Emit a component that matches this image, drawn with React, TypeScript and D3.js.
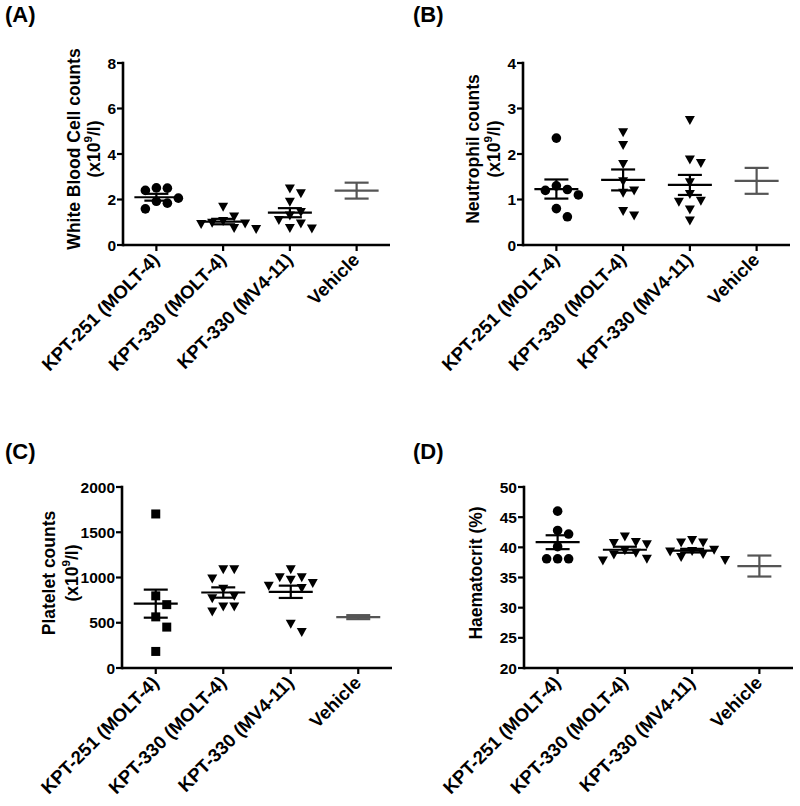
import React from 'react'
import * as d3 from 'd3'

const categories = ['KPT-251 (MOLT-4)', 'KPT-330 (MOLT-4)', 'KPT-330 (MV4-11)', 'Vehicle']

// (A) white blood cell counts, x10^9/l
const wbcPoints = [
    [2.5, 2.51, 2.4, 2.06, 1.92, 1.84, 1.59],
    [1.68, 1.25, 1.05, 0.98, 0.95, 0.92, 0.75, 0.7],
    [2.48, 2.28, 1.9, 1.45, 1.3, 1.1, 0.95, 0.75, 0.72]
]
const wbcMean = [2.1, 1.03, 1.42, 2.39]
const wbcSem = [0.15, 0.12, 0.2, 0.35]
const wbcTicks = [0, 2, 4, 6, 8]

// (B) neutrophil counts, x10^9/l
const neutPoints = [
    [2.35, 1.3, 1.22, 1.2, 1.1, 0.8, 0.62],
    [2.48, 2.2, 1.78, 1.4, 1.2, 1.15, 0.75, 0.65],
    [2.75, 1.88, 1.8, 1.38, 1.12, 0.97, 0.95, 0.78, 0.54]
]
const neutMean = [1.23, 1.43, 1.32, 1.41]
const neutSem = [0.21, 0.23, 0.22, 0.285]
const neutTicks = [0, 1, 2, 3, 4]

// (C) platelet counts, x10^9/l
const pltPoints = [
    [1702, 797, 700, 565, 452, 183],
    [1092, 1092, 988, 875, 797, 772, 680, 680, 625],
    [1092, 1004, 1004, 974, 938, 908, 883, 489, 397]
]
const pltMean = [711, 834, 842, 562]
const pltSem = [155, 57, 68, 22]
const pltTicks = [0, 500, 1000, 1500, 2000]

// (D) haematocrit, %
const hctPoints = [
    [46.0, 42.8, 42.2, 40.1, 38.1, 38.1, 38.1],
    [41.8, 40.9, 40.7, 40.5, 39.5, 39.1, 38.8, 38.1, 37.8],
    [41.2, 40.8, 40.8, 39.6, 39.4, 39.3, 38.9, 38.4, 37.9]
]
const hctMean = [40.85, 39.6, 39.45, 36.9]
const hctSem = [1.15, 0.5, 0.3, 1.74]
const hctTicks = [20, 25, 30, 35, 40, 45, 50]

const FONT = 'Liberation Sans, Arial, sans-serif'
const GREY = '#555'

type Shape = 'circle' | 'triangle' | 'square'

/** places points of one group side by side when they would overlap */
function swarm (ys: number[], gap: number) {
    const placed: { x: number, y: number }[] = []
    const order = ys.map((y, i) => ({ y, i })).sort((a, b) => a.y - b.y)
    const out: number[] = new Array(ys.length).fill(0)
    order.forEach(({ y, i }) => {
        const candidates = [0]
        for (let k = 1; k < 8; k++) candidates.push(k * gap, -k * gap)
        for (const c of candidates) {
            if (!placed.some(p => Math.hypot(p.x - c, p.y - y) < gap - 0.5)) {
                placed.push({ x: c, y })
                out[i] = c
                break
            }
        }
    })
    return out
}

const Marker = ({ shape, x, y }: { shape: Shape, x: number, y: number }) => {
    if (shape === 'circle') return <circle cx={x} cy={y} r={4.8} fill='#000' />
    if (shape === 'square') return <rect x={x - 4.5} y={y - 4.5} width={9} height={9} fill='#000' />
    return <path d={`M${x - 5},${y - 4}L${x + 5},${y - 4}L${x},${y + 5}Z`} fill='#000' />
}

interface PanelProps {
    letter: string,
    letterX: number,
    letterY: number,
    left: number,
    top: number,
    width: number,
    height: number,
    ticks: number[],
    labelLines: React.ReactNode[],
    labelOffsets: number[],
    points: number[][],
    means: number[],
    sems: number[],
    shapes: Shape[]
}

const Panel = (props: PanelProps) => {
    const { left, top, width, height, ticks } = props
    const bottom = top + height
    const y = d3.scaleLinear().domain([ticks[0], ticks[ticks.length - 1]]).range([bottom, top])
    const x = d3.scalePoint<string>().domain(categories).range([left, left + width]).padding(0.5)
    const midY = top + 86

    return (
        <g>
            <text x={props.letterX} y={props.letterY} fontSize={22} fontWeight='bold' fontFamily={FONT}>{props.letter}</text>

            {props.labelLines.map((line, i) => (
                <text
                    key={i}
                    transform={`translate(${left + props.labelOffsets[i]}, ${midY}) rotate(-90)`}
                    textAnchor='middle'
                    dominantBaseline='central'
                    fontSize={17.5}
                    fontWeight='bold'
                    fontFamily={FONT}
                >
                    {line}
                </text>
            ))}

            {/* y axis */}
            <line x1={left} x2={left} y1={top} y2={bottom} stroke='#000' strokeWidth={2.6} strokeLinecap='square' />
            {ticks.map(t => (
                <g key={t}>
                    <line x1={left - 6} x2={left} y1={y(t)} y2={y(t)} stroke='#000' strokeWidth={2.2} />
                    <text x={left - 7} y={y(t)} textAnchor='end' dominantBaseline='central' fontSize={15.5} fontWeight='bold' fontFamily={FONT}>{t}</text>
                </g>
            ))}

            {/* x axis */}
            <line x1={left} x2={left + width} y1={bottom} y2={bottom} stroke='#000' strokeWidth={2.6} />
            {categories.map(c => (
                <g key={c}>
                    <line x1={x(c)} x2={x(c)} y1={bottom} y2={bottom + 6} stroke='#000' strokeWidth={2.2} />
                    <text
                        transform={`translate(${x(c)! + 4}, ${bottom + 16}) rotate(-45)`}
                        textAnchor='end'
                        fontSize={18.5}
                        fontWeight='bold'
                        fontFamily={FONT}
                    >
                        {c}
                    </text>
                </g>
            ))}

            {/* scatter */}
            {props.points.map((vals, gi) => {
                const cx = x(categories[gi])!
                const ys = vals.map(v => y(v))
                const offs = swarm(ys, 11)
                return ys.map((py, pi) => <Marker key={`${gi}-${pi}`} shape={props.shapes[gi]} x={cx + offs[pi]} y={py} />)
            })}

            {/* mean +/- SEM */}
            {categories.map((c, gi) => {
                const cx = x(c)!
                const color = gi === 3 ? GREY : '#000'
                const m = y(props.means[gi])
                const hi = y(props.means[gi] + props.sems[gi])
                const lo = y(props.means[gi] - props.sems[gi])
                return (
                    <g key={c} stroke={color} strokeWidth={2.2}>
                        <line x1={cx - 22} x2={cx + 22} y1={m} y2={m} />
                        <line x1={cx} x2={cx} y1={hi} y2={lo} />
                        <line x1={cx - 12} x2={cx + 12} y1={hi} y2={hi} />
                        <line x1={cx - 12} x2={cx + 12} y1={lo} y2={lo} />
                    </g>
                )
            })}
        </g>
    )
}

const unitLine = (
    <>
        (x10<tspan dy={-6} fontSize={11.5}>9</tspan><tspan dy={6}>/l)</tspan>
    </>
)

export default function App () {
    return (
        <svg width={800} height={806} style={{ position: 'absolute', left: 0, top: 0, background: '#fff' }}>
            <Panel
                letter='(A)' letterX={5} letterY={22}
                left={123} top={63} width={267} height={182}
                ticks={wbcTicks}
                labelLines={['White Blood Cell counts', unitLine]}
                labelOffsets={[-49, -29]}
                points={wbcPoints} means={wbcMean} sems={wbcSem}
                shapes={['circle', 'triangle', 'triangle']}
            />
            <Panel
                letter='(B)' letterX={413} letterY={22}
                left={523} top={63} width={267} height={182}
                ticks={neutTicks}
                labelLines={['Neutrophil counts', unitLine]}
                labelOffsets={[-50, -29]}
                points={neutPoints} means={neutMean} sems={neutSem}
                shapes={['circle', 'triangle', 'triangle']}
            />
            <Panel
                letter='(C)' letterX={5} letterY={459}
                left={122} top={487} width={270} height={181}
                ticks={pltTicks}
                labelLines={['Platelet counts', unitLine]}
                labelOffsets={[-73, -50]}
                points={pltPoints} means={pltMean} sems={pltSem}
                shapes={['square', 'triangle', 'triangle']}
            />
            <Panel
                letter='(D)' letterX={413} letterY={459}
                left={524} top={487} width={269} height={181}
                ticks={hctTicks}
                labelLines={['Haematocrit (%)']}
                labelOffsets={[-48]}
                points={hctPoints} means={hctMean} sems={hctSem}
                shapes={['circle', 'triangle', 'triangle']}
            />
        </svg>
    )
}
